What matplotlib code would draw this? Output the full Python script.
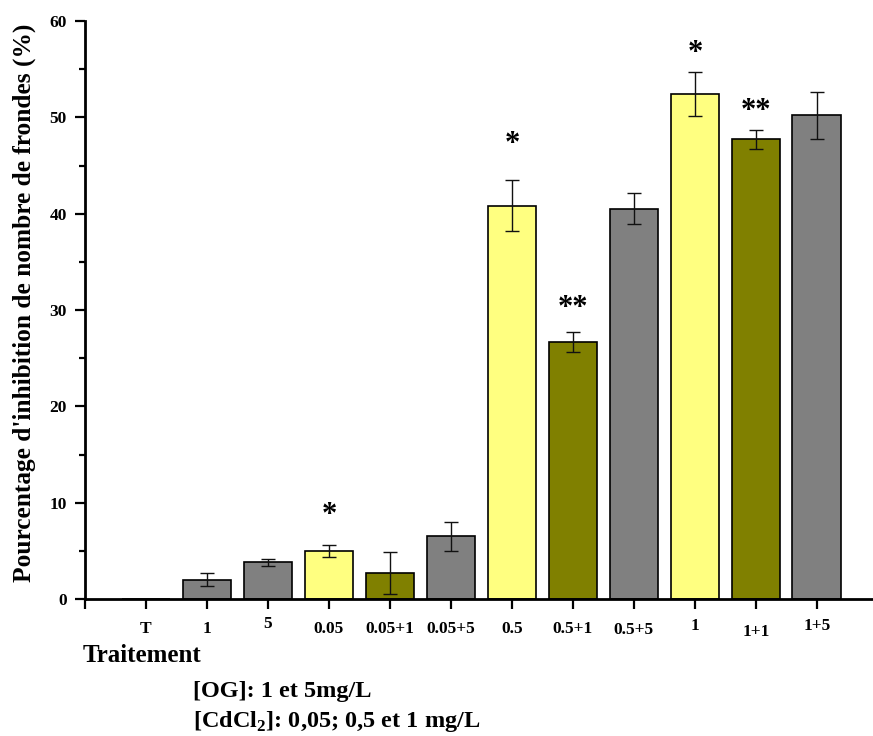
import matplotlib
matplotlib.use("Agg")
import matplotlib.pyplot as plt
from matplotlib.ticker import MultipleLocator
import numpy as np

plt.rcParams['font.family'] = ['Liberation Serif', 'DejaVu Serif']
plt.rcParams['font.weight'] = 'bold'
plt.rcParams['mathtext.fontset'] = 'custom'
plt.rcParams['mathtext.rm'] = 'Liberation Serif:bold'
plt.rcParams['mathtext.bf'] = 'Liberation Serif:bold'

# treatments: control, OG alone, CdCl2 alone and combinations
labels = ['T', '1', '5', '0.05', '0.05+1', '0.05+5', '0.5', '0.5+1', '0.5+5',
          '1', '1+1', '1+5']
inhibition = [0.0, 2.0, 3.8, 5.0, 2.7, 6.5, 40.8, 26.7, 40.5, 52.4, 47.7, 50.2]
errors = [0.0, 0.7, 0.4, 0.6, 2.2, 1.5, 2.65, 1.05, 1.6, 2.3, 1.0, 2.45]
groups = ['gray', 'gray', 'gray', 'cd', 'mix', 'gray', 'cd', 'mix', 'gray',
          'cd', 'mix', 'gray']
signif = {3: '*', 6: '*', 7: '**', 9: '*', 10: '**'}
signif_y = {3: 9.0, 6: 47.5, 7: 30.5, 9: 57.0, 10: 51.0}

colors = {'gray': '#808080', 'cd': '#FFFF80', 'mix': '#808000'}
label_dy = [0, 0, -5, 0, 0, 0, 0, 0, 1, -3, 3, -3]

fig = plt.figure(figsize=(8.73, 7.36), dpi=100)
ax = fig.add_axes([85 / 873, 1 - 599 / 736, 1 - 85 / 873, (599 - 21) / 736])

x = np.arange(1, len(labels) + 1)
ax.bar(x, inhibition, width=0.8, color=[colors[g] for g in groups],
       edgecolor='black', linewidth=1.2, zorder=2)
mask = np.array(inhibition) > 0
ax.errorbar(x[mask], np.array(inhibition)[mask], yerr=np.array(errors)[mask],
            fmt='none', ecolor='#111111', elinewidth=1.0, capsize=5,
            capthick=1.0, zorder=3)

for i, s in signif.items():
    ax.text(x[i], signif_y[i], s, ha='center', va='center_baseline',
            fontsize=22, color='black')

ax.set_xlim(0, 12.92)
ax.set_ylim(0, 60)
ax.set_xticks(np.arange(0, 13))
ax.set_xticklabels([''] + labels)
for lab, dy in zip(ax.get_xticklabels()[1:], label_dy):
    lab.set_y(lab.get_position()[1] - dy / 578)
ax.yaxis.set_major_locator(MultipleLocator(10))
ax.yaxis.set_minor_locator(MultipleLocator(5))

for side in ['top', 'right']:
    ax.spines[side].set_visible(False)
for side in ['left', 'bottom']:
    ax.spines[side].set_linewidth(2.0)

ax.tick_params(axis='x', which='major', direction='out', length=7, width=1.6,
               labelsize=12.5, pad=9)
ax.tick_params(axis='y', which='major', direction='out', length=7, width=1.6,
               labelsize=12.5, pad=6)
ax.tick_params(axis='y', which='minor', direction='out', length=4, width=1.6)

ax.set_ylabel("Pourcentage d'inhibition de nombre de frondes (%)",
              fontsize=18.3, fontweight='bold', va='center')
ax.yaxis.set_label_coords(-61 / 788, 0.513)

fig.text(83 / 873, 1 - 655 / 736, 'Traitement', fontsize=18,
         fontweight='bold', va='center', ha='left')
fig.text(193 / 873, 1 - 691 / 736, '[OG]: 1 et 5mg/L', fontsize=17.5,
         fontweight='bold', va='center', ha='left')
fig.text(193 / 873, 1 - 722 / 736, r'[CdCl$_{2}$]: 0,05; 0,5 et 1 mg/L',
         fontsize=17.5, fontweight='bold', va='center', ha='left')

fig.savefig('out.png', dpi=100)
